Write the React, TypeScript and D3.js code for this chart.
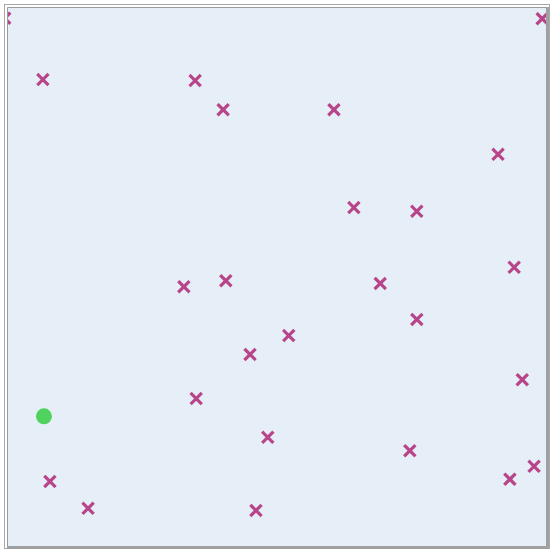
import { useRef, useEffect } from 'react';
import * as d3 from 'd3';

// positions in percent of the plot area (x from left, y from top)
const crossX = [-0.8, 99.1, 6.3, 34.6, 39.8, 60.4, 90.9, 64.1, 75.8, 93.9, 32.5, 40.3, 69.0, 75.8, 52.0, 44.8, 95.4, 34.8, 48.1, 74.5, 97.6, 93.1, 7.6, 14.7, 45.9];
const crossY = [1.8, 1.9, 13.2, 13.4, 18.8, 18.8, 27.1, 37.0, 37.7, 48.1, 51.7, 50.6, 51.1, 57.8, 60.8, 64.3, 69.0, 72.5, 79.7, 82.2, 85.1, 87.5, 87.9, 92.9, 93.3];
const targetX = [6.5];
const targetY = [75.8];

const W = 552;
const H = 552;

export default function App() {
  const svgRef = useRef<SVGSVGElement>(null);

  useEffect(() => {
    const svg = d3.select(svgRef.current);
    svg.selectAll('*').remove();

    const left = 8, top = 8, right = 546, bottom = 546;

    // marks sit about a pixel right of the frame origin
    const x = d3.scaleLinear().domain([0, 100]).range([left + 1, right + 1]);
    const y = d3.scaleLinear().domain([0, 100]).range([top + 0.5, bottom + 0.5]);

    // frame
    svg.append('rect')
      .attr('x', 4.5).attr('y', 4.5)
      .attr('width', 545).attr('height', 544)
      .attr('fill', '#ffffff')
      .attr('stroke', '#a8a8a8');
    svg.append('rect')
      .attr('x', left).attr('y', top)
      .attr('width', right - left).attr('height', bottom - top)
      .attr('fill', '#e6eef7');
    svg.append('path')
      .attr('d', 'M' + (left - 0.5) + ',' + bottom + 'V' + (top - 0.5) + 'H' + right)
      .attr('fill', 'none')
      .attr('stroke', '#9a9a9a')
      .attr('stroke-width', 1);
    svg.append('path')
      .attr('d', 'M' + (right + 1.5) + ',' + (top - 1) + 'V' + (bottom + 1.5) + 'H' + (left - 1))
      .attr('fill', 'none')
      .attr('stroke', '#a0a0a0')
      .attr('stroke-width', 3);

    svg.append('clipPath').attr('id', 'plotclip')
      .append('rect')
      .attr('x', left).attr('y', top)
      .attr('width', right - left).attr('height', bottom - top);

    const g = svg.append('g').attr('clip-path', 'url(#plotclip)');

    const pts = crossX.map(function (d, i) { return { x: d, y: crossY[i] }; });
    const s = 4.5;
    g.selectAll('path.cross')
      .data(pts)
      .join('path')
      .attr('class', 'cross')
      .attr('d', function (d) {
        const cx = x(d.x), cy = y(d.y);
        return 'M' + (cx - s) + ',' + (cy - s) + 'L' + (cx + s) + ',' + (cy + s) +
          'M' + (cx - s) + ',' + (cy + s) + 'L' + (cx + s) + ',' + (cy - s);
      })
      .attr('stroke', '#b8458a')
      .attr('stroke-width', 3.2)
      .attr('stroke-linecap', 'square')
      .attr('fill', 'none');

    g.selectAll('circle.target')
      .data(targetX.map(function (d, i) { return { x: d, y: targetY[i] }; }))
      .join('circle')
      .attr('class', 'target')
      .attr('cx', function (d) { return x(d.x); })
      .attr('cy', function (d) { return y(d.y); })
      .attr('r', 8)
      .attr('fill', '#4fd25e');
  }, []);

  return (
    <svg
      ref={svgRef}
      width={W}
      height={H}
      style={{ position: 'absolute', left: 0, top: 0 }}
    />
  );
}
